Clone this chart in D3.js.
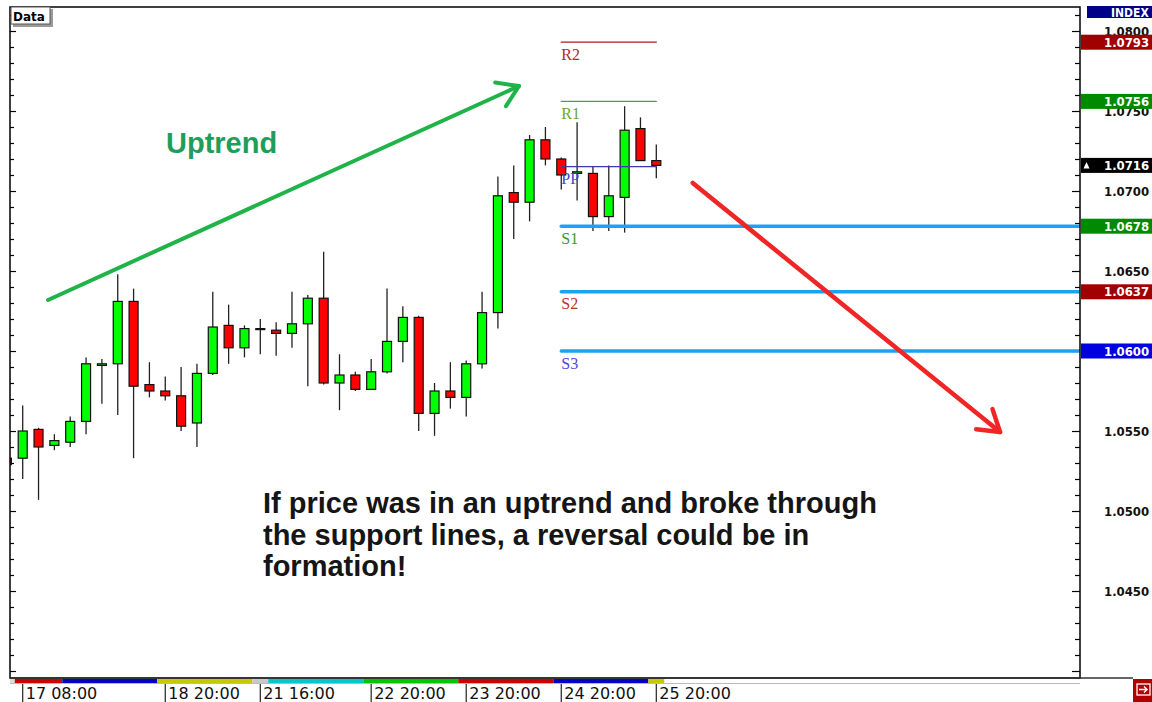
<!DOCTYPE html>
<html>
<head>
<meta charset="utf-8">
<script src="https://cdn.jsdelivr.net/npm/d3@7"></script>
<style>
  body { margin: 0; background: #fff; }
  svg { display: block; }
</style>
</head>
<body>
<div id="chart"></div>
<script>
// H4 candles; position 0 is the half-hidden bar at the left edge, position 1 = "17 08:00"
const opens  = [1.0533, 1.0533, 1.0551, 1.0541, 1.0543, 1.0556, 1.0591, 1.0592, 1.0631, 1.0579, 1.0575,
                1.0572, 1.0555, 1.0586, 1.0616, 1.0602, 1.0614, 1.0613, 1.0611, 1.0617, 1.0633,
                1.0580, 1.0585, 1.0576, 1.0587, 1.0606, 1.0621, 1.0561, 1.0575, 1.0571, 1.0592,
                1.0624, 1.0699, 1.0693, 1.0732, 1.0720, 1.0711, 1.0711, 1.0684, 1.0696, 1.0739, 1.0719];
const highs  = [1.0536, 1.0566, 1.0552, 1.0548, 1.0559, 1.0596, 1.0595, 1.0648, 1.0639, 1.0593, 1.0584,
                1.0590, 1.0592, 1.0637, 1.0629, 1.0616, 1.0620, 1.0618, 1.0637, 1.0635, 1.0662,
                1.0598, 1.0587, 1.0595, 1.0639, 1.0628, 1.0622, 1.0580, 1.0593, 1.0594, 1.0637,
                1.0709, 1.0716, 1.0735, 1.0740, 1.0721, 1.0743, 1.0715, 1.0716, 1.0753, 1.0746, 1.0729];
const lows   = [1.0526, 1.0520, 1.0507, 1.0538, 1.0540, 1.0548, 1.0567, 1.0560, 1.0533, 1.0571, 1.0569,
                1.0550, 1.0540, 1.0585, 1.0592, 1.0596, 1.0598, 1.0597, 1.0602, 1.0578, 1.0579,
                1.0563, 1.0575, 1.0576, 1.0586, 1.0593, 1.0550, 1.0547, 1.0564, 1.0559, 1.0589,
                1.0614, 1.0670, 1.0681, 1.0716, 1.0701, 1.0694, 1.0675, 1.0675, 1.0674, 1.0719, 1.0708];
const closes = [1.0529, 1.0550, 1.0540, 1.0544, 1.0556, 1.0592, 1.0592, 1.0631, 1.0578, 1.0575, 1.0572,
                1.0553, 1.0586, 1.0615, 1.0602, 1.0614, 1.0614, 1.0611, 1.0617, 1.0633, 1.0580,
                1.0585, 1.0576, 1.0587, 1.0606, 1.0621, 1.0561, 1.0575, 1.0571, 1.0592, 1.0624,
                1.0697, 1.0693, 1.0732, 1.0720, 1.0710, 1.0712, 1.0684, 1.0697, 1.0738, 1.0719, 1.0716];

// time axis
const timeLabelPos = [1, 10, 16, 23, 29, 35, 41];
const timeLabels = ["17 08:00", "18 20:00", "21 16:00", "22 20:00", "23 20:00", "24 20:00", "25 20:00"];

// day separator strip under the chart (bar positions)
const dayFrom   = [-0.5, 0.5, 3.5, 9.5, 15.5, 16.5, 22.5, 28.5, 34.5, 40.5];
const dayTo     = [0.5, 3.5, 9.5, 15.5, 16.5, 22.5, 28.5, 34.5, 40.5, 41.5];
const dayColors = ["#dcdcdc", "#cc0000", "#0000c8", "#c8c800", "#c8c8c8", "#00c8c8", "#00c800", "#cc0000", "#0000c8", "#c8c800"];

// pivot levels
const pivotNames  = ["R2", "R1", "PP", "S1", "S2", "S3"];
const pivotValues = [1.0793, 1.0756, 1.07152, 1.0678, 1.0637, 1.0600];
const pivotColors = ["#a81c1c", "#3aaa3a", "#3a3aaa", "#1aa3f0", "#1aa3f0", "#1aa3f0"];
const pivotTextColors = ["#b02a2a", "#6aa820", "#4040d8", "#3a9a2a", "#b83030", "#4848e0"];
const pivotStart = 35;

// price tags on the right axis
const tagValues = [1.0793, 1.0756, 1.0716, 1.0678, 1.0637, 1.0600];
const tagColors = ["#a00000", "#008a00", "#000000", "#008a00", "#a00000", "#0000e0"];

// annotation arrows, in (bar position, price)
const upArrow   = [[2.6, 1.06319], [32.33, 1.07656]];
const downArrow = [[43.3, 1.0705], [62.7, 1.05494]];

const noteLines = ["If price was in an uptrend and broke through",
                   "the support lines, a reversal could be in",
                   "formation!"];

const W = 1152, H = 702;
const plotL = 10, plotR = 1080, plotT = 7, plotB = 678;

const x = d3.scaleLinear().domain([1, 41]).range([22.7, 656.3]);
const y = d3.scaleLinear().domain([1.045, 1.080]).range([591, 31]);

const svg = d3.select("#chart").append("svg")
  .attr("width", W).attr("height", H);

svg.append("defs").append("clipPath").attr("id", "plot")
  .append("rect").attr("x", plotL).attr("y", plotT)
  .attr("width", plotR - plotL).attr("height", plotB - plotT);

// tick marks every 0.001, longer every 0.005
const tickVals = d3.range(1040, 1085).map(v => v / 1000).filter(v => y(v) > plotT + 2 && y(v) < plotB - 2);
const majorVals = tickVals.filter(v => Math.round(v * 1000) % 5 === 0);
const minorVals = tickVals.filter(v => Math.round(v * 1000) % 5 !== 0);

function ticks(axisFn, at, vals, size) {
  const g = svg.append("g").attr("transform", `translate(${at},0)`)
    .call(axisFn(y).tickValues(vals).tickSize(size).tickFormat(""));
  g.select(".domain").remove();
  g.selectAll("line").attr("stroke", "#000").attr("stroke-width", 1.2);
}
ticks(d3.axisLeft, plotR, minorVals, 5);
ticks(d3.axisLeft, plotR, majorVals, 8);
ticks(d3.axisRight, plotL, minorVals, 4);
ticks(d3.axisRight, plotL, majorVals, 6);

// price labels
svg.append("g").selectAll("text")
  .data(d3.range(1045, 1081, 5).map(v => v / 1000))
  .join("text")
  .attr("x", 1104).attr("y", d => y(d)).attr("dy", "0.36em")
  .style("font-family", "'DejaVu Sans Condensed', 'DejaVu Sans', sans-serif")
  .style("font-stretch", "condensed")
  .style("font-weight", "bold").style("font-size", "13px")
  .attr("fill", "#111")
  .text(d => d.toFixed(4));

// candles
const bars = d3.range(opens.length).map(i => ({
  i, o: opens[i], h: highs[i], l: lows[i], c: closes[i]
}));
const plot = svg.append("g").attr("clip-path", "url(#plot)");

plot.selectAll(".wick").data(bars).join("line")
  .attr("x1", d => x(d.i)).attr("x2", d => x(d.i))
  .attr("y1", d => y(d.h)).attr("y2", d => y(d.l))
  .attr("stroke", "#222").attr("stroke-width", 1.3);

plot.selectAll(".body").data(bars).join("rect")
  .attr("x", d => x(d.i) - 4.5).attr("width", 9)
  .attr("y", d => y(Math.max(d.o, d.c)))
  .attr("height", d => Math.max(1, Math.abs(y(d.o) - y(d.c))))
  .attr("fill", d => d.c >= d.o ? "#00ff00" : "#ff0000")
  .attr("stroke", "#111").attr("stroke-width", 1.2);

// pivot lines
pivotNames.forEach((name, k) => {
  const support = name.startsWith("S");
  plot.append("line")
    .attr("x1", x(pivotStart)).attr("x2", support ? plotR : x(41))
    .attr("y1", y(pivotValues[k])).attr("y2", y(pivotValues[k]))
    .attr("stroke", pivotColors[k])
    .attr("stroke-width", support ? 3.5 : 1.3)
    .attr("stroke-linecap", "round");
  plot.append("text")
    .attr("x", x(pivotStart)).attr("y", y(pivotValues[k]) + 17.5)
    .style("font-family", "'Liberation Serif', serif").style("font-size", "16px")
    .attr("fill", pivotTextColors[k])
    .text(name);
});

// arrows
function arrow(pts, color, width) {
  const [x0, y0] = [x(pts[0][0]), y(pts[0][1])];
  const [x1, y1] = [x(pts[1][0]), y(pts[1][1])];
  const a = Math.atan2(y1 - y0, x1 - x0);
  const len = 24, spread = Math.PI / 5.5;
  const g = plot.append("g")
    .attr("stroke", color).attr("stroke-width", width)
    .attr("stroke-linecap", "round").attr("stroke-linejoin", "round").attr("fill", "none");
  g.append("line").attr("x1", x0).attr("y1", y0).attr("x2", x1).attr("y2", y1);
  g.append("path").attr("d", d3.line()([
    [x1 - len * Math.cos(a - spread), y1 - len * Math.sin(a - spread)],
    [x1, y1],
    [x1 - len * Math.cos(a + spread), y1 - len * Math.sin(a + spread)]
  ]));
}
arrow(upArrow, "#1fb34a", 4);
arrow(downArrow, "#f02626", 4.5);

// text annotations
svg.append("text")
  .attr("x", 166).attr("y", 153)
  .style("font-family", "'Liberation Sans', Arial, sans-serif")
  .style("font-weight", "bold").style("font-size", "29px")
  .attr("fill", "#1e9e58")
  .text("Uptrend");

svg.append("g").selectAll("text").data(noteLines).join("text")
  .attr("x", 263).attr("y", (d, k) => 513 + k * 31.5)
  .style("font-family", "'Liberation Sans', Arial, sans-serif")
  .style("font-weight", "bold").style("font-size", "29px")
  .attr("fill", "#151515")
  .text(d => d);

// frame
svg.append("rect")
  .attr("x", plotL).attr("y", plotT).attr("width", plotR - plotL).attr("height", plotB - plotT)
  .attr("fill", "none").attr("stroke", "#000").attr("stroke-width", 1.5);
svg.append("line").attr("x1", plotL).attr("x2", 1133).attr("y1", plotB).attr("y2", plotB)
  .attr("stroke", "#333").attr("stroke-width", 1.5);

// day strip
svg.append("g").selectAll("rect").data(dayColors).join("rect")
  .attr("x", (d, k) => Math.max(plotL, x(dayFrom[k])))
  .attr("width", (d, k) => x(dayTo[k]) - Math.max(plotL, x(dayFrom[k])))
  .attr("y", plotB + 1).attr("height", 4)
  .attr("fill", d => d);
svg.append("line").attr("x1", plotL).attr("x2", plotR).attr("y1", plotB + 5.5).attr("y2", plotB + 5.5)
  .attr("stroke", "#bbb").attr("stroke-width", 1);

// time labels
const tl = svg.append("g").selectAll("g").data(timeLabels).join("g")
  .attr("transform", (d, k) => `translate(${x(timeLabelPos[k])},0)`);
tl.append("line").attr("y1", plotB + 6).attr("y2", H).attr("stroke", "#222").attr("stroke-width", 1.2);
tl.append("text").attr("x", 3).attr("y", 699)
  .style("font-family", "'DejaVu Sans', sans-serif").style("font-size", "16px")
  .attr("fill", "#111").text(d => d);

// price tags
const tags = svg.append("g").selectAll("g").data(tagValues).join("g")
  .attr("transform", d => `translate(1081,${y(d)})`);
tags.append("rect").attr("x", 0).attr("y", -7.5).attr("width", W - 1081).attr("height", 15)
  .attr("fill", (d, k) => tagColors[k]);
tags.append("text").attr("x", 23).attr("dy", "0.36em")
  .style("font-family", "'DejaVu Sans Condensed', 'DejaVu Sans', sans-serif")
  .style("font-stretch", "condensed")
  .style("font-weight", "bold").style("font-size", "13px")
  .attr("fill", "#fff").text(d => d.toFixed(4));
tags.filter((d, k) => tagColors[k] === "#000000").append("path")
  .attr("d", "M2.5,3 L5.5,-3.5 L8.5,3 Z").attr("fill", "#fff");

// INDEX tag
svg.append("rect").attr("x", 1087).attr("y", 6).attr("width", W - 1087).attr("height", 12).attr("fill", "#000088");
svg.append("text").attr("x", 1111).attr("y", 16.5)
  .style("font-family", "'DejaVu Sans Condensed', 'DejaVu Sans', sans-serif")
  .style("font-stretch", "condensed")
  .style("font-weight", "bold").style("font-size", "12px")
  .attr("fill", "#fff").text("INDEX");

// "Data" button
svg.append("rect").attr("x", 13).attr("y", 9).attr("width", 40).attr("height", 18).attr("fill", "#9a9a9a");
svg.append("rect").attr("x", 11).attr("y", 7).attr("width", 39).attr("height", 17)
  .attr("fill", "#fff").attr("stroke", "#555").attr("stroke-width", 1);
svg.append("text").attr("x", 13).attr("y", 20.5)
  .style("font-family", "'DejaVu Sans', sans-serif")
  .style("font-weight", "bold").style("font-size", "12px")
  .attr("fill", "#000").text("Data");

// scroll icon bottom right
svg.append("rect").attr("x", 1133).attr("y", 679).attr("width", 19).attr("height", 23).attr("fill", "#b00000");
svg.append("rect").attr("x", 1137).attr("y", 684).attr("width", 13).attr("height", 11)
  .attr("fill", "none").attr("stroke", "#fff").attr("stroke-width", 1.3);
svg.append("path").attr("d", "M1139,689.5 H1147 M1144,686.5 L1147,689.5 L1144,692.5")
  .attr("fill", "none").attr("stroke", "#fff").attr("stroke-width", 1.5);
</script>
</body>
</html>
